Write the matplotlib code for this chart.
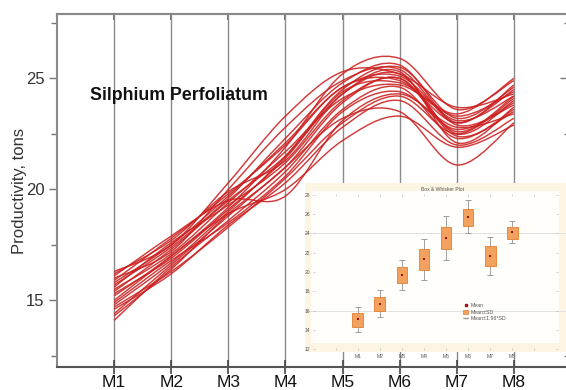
import numpy as np
import matplotlib
matplotlib.use("Agg")
import matplotlib.pyplot as plt
from matplotlib.path import Path
from matplotlib.patches import PathPatch, Rectangle, Patch
from matplotlib.lines import Line2D
from matplotlib.ticker import FixedLocator

plt.rcParams['font.family'] = ['Liberation Sans', 'DejaVu Sans']

# ---------------- data ----------------
months = ['M1', 'M2', 'M3', 'M4', 'M5', 'M6', 'M7', 'M8']
# productivity of each sample curve at M1..M8 (20 curves)
m1 = [15.2, 14.8, 16.3, 16.0, 15.6, 14.1, 14.4, 15.4, 15.9, 14.6, 15.0, 16.1, 15.3, 14.9, 15.7, 14.3, 15.5, 16.2, 14.7, 15.8]
m2 = [17.0, 16.7, 17.5, 17.2, 17.6, 16.5, 16.6, 17.3, 17.8, 16.2, 17.0, 17.9, 16.9, 16.8, 17.4, 16.4, 17.1, 17.7, 16.3, 17.5]
m3 = [19.2, 19.0, 20.3, 20.0, 19.3, 18.6, 18.8, 19.5, 19.8, 18.4, 18.9, 19.5, 19.1, 18.5, 19.6, 18.9, 19.4, 19.9, 18.3, 19.7]
m4 = [21.9, 21.5, 23.3, 22.8, 21.2, 20.8, 21.0, 21.5, 22.0, 20.3, 20.0, 19.7, 21.4, 20.6, 22.3, 21.0, 21.7, 21.3, 20.5, 22.1]
m5 = [25.2, 24.5, 25.3, 24.9, 24.0, 23.6, 23.2, 24.3, 24.6, 22.8, 22.2, 23.1, 24.4, 23.5, 24.8, 23.9, 24.1, 24.3, 23.0, 24.6]
m6 = [25.9, 25.5, 25.2, 25.4, 25.0, 24.6, 23.5, 25.2, 24.9, 24.0, 23.3, 24.3, 24.8, 24.4, 25.6, 25.0, 24.7, 25.3, 24.2, 25.1]
m7 = [23.6, 23.2, 23.7, 22.9, 22.6, 22.3, 21.1, 22.5, 23.0, 22.0, 21.9, 22.8, 23.4, 22.7, 23.0, 22.4, 23.3, 22.1, 22.5, 23.1]
m8 = [24.9, 24.6, 24.3, 23.8, 24.2, 23.6, 23.0, 24.0, 24.5, 23.2, 22.9, 23.4, 25.0, 23.9, 24.7, 23.5, 24.4, 23.7, 24.1, 24.2]

# inset box & whisker statistics
box_means = [15.1, 16.7, 19.7, 21.35, 23.5, 25.65, 21.7, 24.15]
sd_low    = [14.35, 15.95, 18.9, 20.25, 22.35, 24.75, 20.6, 23.45]
sd_high   = [15.75, 17.45, 20.5, 22.4, 24.65, 26.55, 22.65, 24.7]
ci_low    = [13.8, 15.3, 18.1, 19.2, 21.25, 24.0, 19.7, 23.0]
ci_high   = [16.4, 18.15, 21.2, 23.45, 25.75, 27.4, 23.65, 25.3]
inset_yticks = [12, 14, 16, 18, 20, 22, 24, 26, 28]

main_yticks = [15, 20, 25]
main_yminor = [12.5, 17.5, 22.5, 27.5]

# ---------------- figure ----------------
fig = plt.figure(figsize=(5.66, 3.9), dpi=100)
ax = fig.add_axes([57/566, 23/390, 514/566, 353/390])
xpos = np.arange(1, len(months) + 1)
curves = np.array([m1, m2, m3, m4, m5, m6, m7, m8]).T


def smooth_path(xs, ys):
    pts = np.column_stack([xs, ys]).astype(float)
    ext = np.vstack([pts[0], pts, pts[-1]])
    verts = [pts[0]]
    codes = [Path.MOVETO]
    for i in range(len(pts) - 1):
        p0, p1, p2, p3 = ext[i], ext[i + 1], ext[i + 2], ext[i + 3]
        c1 = p1 + (p2 - p0) / 6.0
        c2 = p2 - (p3 - p1) / 6.0
        verts += [c1, c2, p2]
        codes += [Path.CURVE4] * 3
    return Path(verts, codes)


for row in curves:
    ax.add_patch(PathPatch(smooth_path(xpos, row), facecolor='none',
                           edgecolor='#cc1f1f', lw=1.05, alpha=0.88, zorder=3))

ax.set_xlim(0, 9)
ax.set_ylim(12.0, 27.9)
ax.set_xticks(xpos)
ax.set_xticklabels(months, fontsize=12.5, color='#111111')
ax.set_yticks(main_yticks)
ax.yaxis.set_minor_locator(FixedLocator(main_yminor))
ax.tick_params(axis='y', which='major', direction='out', length=6, width=1.0,
               color='#777777', labelsize=12, labelcolor='#333333', pad=3)
ax.tick_params(axis='y', which='minor', direction='out', length=4, width=1.0,
               color='#777777')
ax.tick_params(axis='x', which='major', direction='inout', length=10, width=1.2,
               color='#444444', pad=1)
ax.grid(axis='x', color='#8a8a8a', lw=1.0, zorder=1)
for side in ['left', 'top', 'right']:
    ax.spines[side].set_color('#8a8a8a')
    ax.spines[side].set_linewidth(1.5)
ax.spines['bottom'].set_color('#555555')
ax.spines['bottom'].set_linewidth(1.5)
ax.set_ylabel('Productivity, tons', fontsize=12, color='#333333', labelpad=-1)
ax.text(0.578, 24.25, 'Silphium Perfoliatum', fontsize=12.8, fontweight='bold',
        color='#111111', va='center', ha='left', zorder=5)

# mirrored inward ticks on top and right
top = ax.secondary_xaxis('top')
top.set_xticks(xpos)
top.tick_params(direction='in', length=4, width=1.2, color='#555555',
                labeltop=False)
top.spines['top'].set_color('#8a8a8a')
top.spines['top'].set_linewidth(1.5)
right = ax.secondary_yaxis('right')
right.set_yticks(main_yticks)
right.yaxis.set_minor_locator(FixedLocator(main_yminor))
right.tick_params(which='major', direction='in', length=8, width=1.0,
                  color='#777777', labelright=False)
right.tick_params(which='minor', direction='in', length=5, width=1.0,
                  color='#777777', labelright=False)
right.spines['right'].set_color('#8a8a8a')

# ---------------- inset ----------------
ins = fig.add_axes([305/566, 38/390, 265/566, 169/390])
ins.set_facecolor('#fcf5e4')
ins.add_patch(Rectangle((0.023, 0.055), 0.935, 0.895, transform=ins.transAxes,
                        facecolor='#fffefb', edgecolor='none', zorder=0))
ins.set_xlim(-1.386, 10.61)
ins.set_ylim(11.72, 29.21)
for side, pos in [('left', -1), ('right', 10), ('bottom', 12), ('top', 28)]:
    ins.spines[side].set_position(('data', pos))
    ins.spines[side].set_color('none')
ins.set_xticks(xpos)
ins.set_xticklabels(months, fontsize=3.6, color='#555555')
ins.xaxis.set_minor_locator(FixedLocator([0, 9]))
ins.set_yticks(inset_yticks)
ins.tick_params(axis='y', labelsize=3.6, labelcolor='#555555', direction='inout',
                length=1.5, width=0.5, color='#bbbbbb', pad=1.5, right=True)
ins.tick_params(axis='x', which='both', direction='inout', length=1.5, width=0.5,
                color='#bbbbbb', pad=2.5, top=True)
ins.axhline(16, color='#dddddd', lw=0.6, zorder=1)
ins.axhline(24, color='#dddddd', lw=0.6, zorder=1)

box_color = '#f2a25e'
edge_color = '#e07f30'
whisk_color = '#909090'
sd_low_a = np.array(sd_low)
sd_high_a = np.array(sd_high)
ins.vlines(xpos, ci_low, sd_low, color=whisk_color, lw=0.6, zorder=2)
ins.vlines(xpos, sd_high, ci_high, color=whisk_color, lw=0.6, zorder=2)
ins.hlines(ci_low, xpos - 0.13, xpos + 0.13, color=whisk_color, lw=0.6, zorder=2)
ins.hlines(ci_high, xpos - 0.13, xpos + 0.13, color=whisk_color, lw=0.6, zorder=2)
ins.bar(xpos, sd_high_a - sd_low_a, bottom=sd_low_a, width=0.48,
        color=box_color, edgecolor=edge_color, lw=0.6, zorder=3)
ins.scatter(xpos, box_means, marker='s', s=3, color='#9b1010', zorder=4, lw=0)
ins.text(0.517, 0.975, 'Box & Whisker Plot', transform=ins.transAxes,
         fontsize=3.6, color='#555555', ha='center', va='top')

handles = [
    Line2D([], [], marker='s', ls='none', color='#9b1010', ms=1.5),
    Patch(facecolor=box_color, edgecolor=edge_color, lw=0.5),
    Line2D([], [], color=whisk_color, lw=0.6, marker='_', ms=3),
]
ins.legend(handles, ['Mean', 'Mean\u00b1SD', 'Mean\u00b11.96*SD'],
           loc='upper left', bbox_to_anchor=(5.65, 17.1),
           bbox_transform=ins.transData, frameon=False, fontsize=3.8,
           handlelength=1.0, handleheight=0.8, handletextpad=0.4,
           labelspacing=0.35, borderpad=0, labelcolor='#555555')

fig.savefig('out.png', dpi=100)
